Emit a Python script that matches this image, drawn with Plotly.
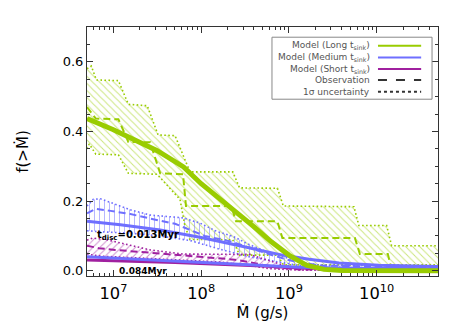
import plotly.graph_objects as go

GREEN = '#99cc00'
BLUE = '#6f6fff'
PURPLE = '#a0209f'

# Long t_sink (t_disc = 0.013 Myr)
long_model_x = [5e6, 1e7, 3.16e7, 6.3e7, 1e8, 1.58e8, 2.51e8, 3.98e8, 6.3e8, 1e9, 1.58e9, 2.51e9, 3.98e9, 1e10, 5e10]
long_model_y = [0.437, 0.405, 0.345, 0.298, 0.25, 0.21, 0.17, 0.127, 0.083, 0.045, 0.016, 0.004, 0.001, 0.0, 0.0]

obs_long_x = [5e6, 6.3e6, 1.14e7, 1.48e7, 2.62e7, 3.41e7, 6.21e7, 6.71e7, 2.2e8, 2.5e8, 7.4e8, 8.42e8, 5.65e9, 6.44e9, 1.34e10, 1.48e10, 5e10]
obs_long_y = [0.47, 0.437, 0.435, 0.37, 0.369, 0.28, 0.277, 0.186, 0.186, 0.142, 0.142, 0.094, 0.094, 0.048, 0.048, 0.005, 0.005]

up_long_x = [5e6, 5.6e6, 6.4e6, 1.14e7, 1.48e7, 2.43e7, 3.23e7, 5.04e7, 7.45e7, 2.29e8, 2.74e8, 7.4e8, 8.64e8, 5.51e9, 6.27e9, 1.3e10, 1.48e10, 5e10]
up_long_y = [0.58, 0.588, 0.548, 0.546, 0.478, 0.474, 0.39, 0.388, 0.284, 0.284, 0.238, 0.237, 0.186, 0.184, 0.13, 0.13, 0.072, 0.072]

lo_long_x = [5e6, 5.3e6, 6.3e6, 1.14e7, 1.48e7, 3.15e7, 5.74e7, 6.54e7, 7.45e7, 2.29e8, 2.74e8, 7.4e8, 8.64e8, 5e10]
lo_long_y = [0.35, 0.364, 0.335, 0.333, 0.28, 0.277, 0.205, 0.128, 0.09, 0.089, 0.045, 0.045, 0.017, 0.017]

# Medium t_sink (t_disc = 0.013 Myr)
med_model_x = [5e6, 1.2e7, 3.41e7, 9.67e7, 2.74e8, 8.42e8, 1.7e9, 3.72e9, 1.06e10, 5e10]
med_model_y = [0.142, 0.132, 0.117, 0.096, 0.072, 0.045, 0.033, 0.022, 0.016, 0.012]

obs_med_x = [5e6, 6.3e6, 9.3e6, 1.56e7, 2.62e7, 5.04e7, 1.1e8, 2.11e8, 5.55e8, 1.01e9, 2.21e9, 5e10]
obs_med_y = [0.165, 0.178, 0.172, 0.163, 0.15, 0.135, 0.1, 0.085, 0.05, 0.03, 0.015, 0.01]

up_med_x = [5e6, 5.9e6, 7.1e6, 1.05e7, 1.56e7, 2.62e7, 6.21e7, 9.67e7, 1.51e8, 2.29e8, 3.56e8, 5.55e8, 8.42e8, 1.31e9, 2.21e9, 5e10]
up_med_y = [0.186, 0.205, 0.207, 0.19, 0.175, 0.16, 0.152, 0.137, 0.113, 0.099, 0.075, 0.055, 0.041, 0.026, 0.016, 0.014]

lo_med_x = [5e6, 7.1e6, 1.56e7, 3.41e7, 7.45e7, 1.63e8, 3.56e8, 7.4e8, 1.31e9, 2.87e9, 5e10]
lo_med_y = [0.115, 0.112, 0.108, 0.1, 0.087, 0.062, 0.04, 0.025, 0.015, 0.008, 0.005]

# t_disc = 0.084 Myr
med2_model_x = [5e6, 5.04e7, 5e8, 1.31e9, 6.27e9, 5e10]
med2_model_y = [0.04, 0.028, 0.016, 0.01, 0.007, 0.006]

short_model_x = [5e6, 5.04e7, 5e8, 1.31e9, 6.27e9, 5e10]
short_model_y = [0.031, 0.024, 0.014, 0.008, 0.005, 0.004]

obs_short_x = [5e6, 6.8e6, 1.05e7, 1.77e7, 3.23e7, 5.74e7, 1.19e8, 2.41e8, 4.06e8, 6.84e8, 1.31e9, 5e10]
obs_short_y = [0.072, 0.065, 0.06, 0.055, 0.05, 0.045, 0.037, 0.032, 0.022, 0.01, 0.004, 0.002]

up_short_x = [5e6, 5.8e6, 8.1e6, 1.2e7, 1.77e7, 2.62e7, 6.21e7, 1.51e8, 3.56e8, 4.87e8, 8.42e8, 1.31e9, 2.87e9, 5e10]
up_short_y = [0.088, 0.094, 0.09, 0.08, 0.072, 0.06, 0.048, 0.048, 0.047, 0.036, 0.017, 0.008, 0.004, 0.003]

lo_short_x = [5e6, 7.1e6, 1.56e7, 3.41e7, 7.45e7, 1.63e8, 3.56e8, 6e8, 1.31e9, 5e10]
lo_short_y = [0.048, 0.042, 0.038, 0.034, 0.03, 0.025, 0.015, 0.006, 0.002, 0.0]

legend_labels = ['Model (Long t<sub>sink</sub>)', 'Model (Medium t<sub>sink</sub>)',
                 'Model (Short t<sub>sink</sub>)', 'Observation', '1\u03c3 uncertainty']

fig = go.Figure()


def band(ux, uy, lx, ly, color, shape):
    fig.add_trace(go.Scatter(
        x=ux + lx[::-1], y=uy + ly[::-1], mode='lines', fill='toself',
        line=dict(width=0), fillcolor='rgba(0,0,0,0)',
        fillpattern=dict(shape=shape, fgcolor=color, bgcolor='rgba(0,0,0,0)',
                         size=5, solidity=0.2, fillmode='overlay'),
        hoverinfo='skip', showlegend=False))


def line(x, y, color, width, dash='solid'):
    fig.add_trace(go.Scatter(x=x, y=y, mode='lines', showlegend=False,
                             line=dict(color=color, width=width, dash=dash)))


band(up_long_x, up_long_y, lo_long_x, lo_long_y, GREEN, '\\')
band(up_med_x, up_med_y, lo_med_x, lo_med_y, BLUE, '|')
band(up_short_x, up_short_y, lo_short_x, lo_short_y, PURPLE, '/')

for ux, uy, lx, ly, c in [(up_long_x, up_long_y, lo_long_x, lo_long_y, GREEN),
                          (up_med_x, up_med_y, lo_med_x, lo_med_y, BLUE),
                          (up_short_x, up_short_y, lo_short_x, lo_short_y, PURPLE)]:
    line(ux, uy, c, 1.6, '1.6px,2.4px')
    line(lx, ly, c, 1.6, '1.6px,2.4px')

line(obs_long_x, obs_long_y, GREEN, 2, '7px,4px')
line(obs_med_x, obs_med_y, BLUE, 2, '7px,4px')
line(obs_short_x, obs_short_y, PURPLE, 2, '7px,4px')

line(med_model_x, med_model_y, BLUE, 3)
line(short_model_x, short_model_y, PURPLE, 3)
line(med2_model_x, med2_model_y, BLUE, 3)
line(long_model_x, long_model_y, GREEN, 5)

# custom legend (text on the left, sample on the right)
rows = [0.925, 0.878, 0.831, 0.787, 0.740]
styles = [(GREEN, 'solid'), (BLUE, 'solid'), (PURPLE, 'solid'), ('#333333', 'dash'), ('#333333', 'dot')]
fig.add_shape(type='rect', xref='paper', yref='paper', x0=0.527, x1=0.983, y0=0.710, y1=0.959,
              line=dict(color='#888888', width=1), fillcolor='white', layer='above')
for lab, yy, (c, d) in zip(legend_labels, rows, styles):
    fig.add_annotation(x=0.812, y=yy, xref='paper', yref='paper', text=lab, showarrow=False,
                       xanchor='right', yanchor='middle', font=dict(size=9, color='#555555'))
    fig.add_shape(type='line', xref='paper', yref='paper', x0=0.829, x1=0.952, y0=yy, y1=yy,
                  line=dict(color=c, width=2, dash=d), layer='above')

fig.add_annotation(x=7.28, y=0.1, xref='x', yref='y', text='<b>t<sub>disc</sub>=0.013Myr</b>',
                   showarrow=False, font=dict(size=10, color='black'))
fig.add_annotation(x=7.34, y=0.0, xref='x', yref='y', text='<b>0.084Myr</b>',
                   showarrow=False, font=dict(size=9, color='black'))

axis_common = dict(showgrid=False, zeroline=False, showline=True, linecolor='#333333', linewidth=1,
                   mirror='ticks', ticks='inside', ticklen=6, tickcolor='#333333',
                   tickfont=dict(size=13, color='black'))

fig.update_xaxes(type='log', range=[6.699, 10.699], dtick=1, exponentformat='power',
                 minor=dict(ticks='inside', ticklen=3, dtick='D1', tickcolor='#333333'),
                 ticklabelstandoff=3,
                 title=dict(text='\u1e40 (g/s)', font=dict(size=15, color='black'), standoff=4),
                 **axis_common)
fig.update_yaxes(range=[-0.015, 0.7], dtick=0.2, tickformat='.1f',
                 minor=dict(ticks='inside', ticklen=3, dtick=0.05, tickcolor='#333333'),
                 title=dict(text='f(>\u1e40)', font=dict(size=15, color='black'), standoff=30),
                 **axis_common)

fig.update_layout(width=465, height=332, margin=dict(l=87, r=27, t=27, b=56),
                  plot_bgcolor='white', paper_bgcolor='white', showlegend=False,
                  font=dict(family='DejaVu Sans'))

fig.write_html('out.html', config={'displayModeBar': False},
               post_script="document.body.style.margin='0px';")
